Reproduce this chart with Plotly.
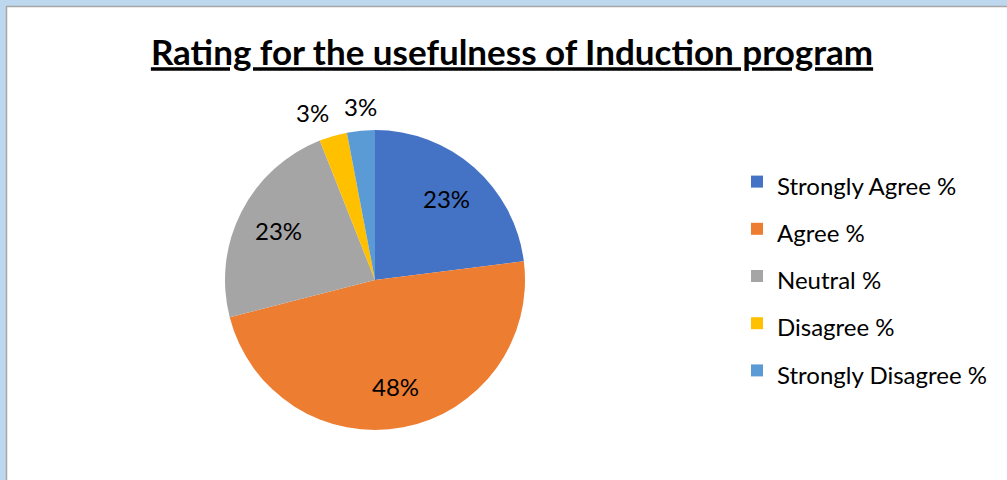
import math
import plotly.graph_objects as go

# rating data
labels = ["Strongly Agree %", "Agree %", "Neutral %", "Disagree %", "Strongly Disagree %"]
values = [23, 48, 23, 3, 3]
colors = ["#4472C4", "#ED7D31", "#A5A5A5", "#FFC000", "#5B9BD5"]
title_text = "Rating for the usefulness of Induction program"

W, H = 1007, 480
cx, cy, r = 375, 280, 150  # pie centre / radius in pixels

# legend rows in the original are widely spaced, so the legend font sets the row height
# and the label itself is drawn smaller
legend_labels = ["<span style='font-size:24px'>%s</span>" % l for l in labels]

fig = go.Figure()
fig.add_trace(go.Pie(
    labels=legend_labels,
    values=values,
    sort=False,
    direction="clockwise",
    rotation=0,
    marker=dict(colors=colors, line=dict(color="white", width=0)),
    textinfo="none",
    domain=dict(x=[(cx - r) / W, (cx + r) / W], y=[1 - (cy + r) / H, 1 - (cy - r) / H]),
    hoverinfo="label+percent",
))

# data labels placed like Excel: inside big slices, just outside small ones
total = sum(values)
cum = 0
for v in values:
    frac = v / total
    ang = math.radians((cum + v / 2) / total * 360)
    cum += v
    if frac >= 0.05:
        rr, xa, ya = r * 0.72, "center", "middle"
    else:
        rr = r * 1.05
        xa = "right" if math.sin(ang) < -0.2 else "center"
        ya = "bottom"
    px = cx + rr * math.sin(ang)
    py = cy - rr * math.cos(ang)
    fig.add_annotation(x=px / W, y=1 - py / H, xref="paper", yref="paper",
                       text="%d%%" % round(frac * 100), showarrow=False,
                       xanchor=xa, yanchor=ya,
                       font=dict(family="Lato", size=24, color="#000000"))

# chart frame: light blue strip top/left with grey edge, white chart area
fig.add_shape(type="rect", xref="paper", yref="paper",
              x0=6.5 / W, x1=1.01, y0=-0.01, y1=1 - 6.5 / H,
              fillcolor="white", line=dict(color="#A6A6A6", width=1.5), layer="below")

fig.update_layout(
    width=W, height=H,
    margin=dict(l=0, r=0, t=0, b=0),
    paper_bgcolor="#BDD7EE",
    plot_bgcolor="white",
    title=dict(text="<b><u>%s</u></b>" % title_text, x=512 / W, xanchor="center",
               y=1 - 53 / H, yanchor="middle",
               font=dict(family="Lato", size=35, color="#000000")),
    legend=dict(x=737 / W, xanchor="left", y=1 - 276 / H, yanchor="middle",
                font=dict(family="Lato", size=34, color="#000000"),
                bgcolor="rgba(0,0,0,0)"),
    showlegend=True,
)

fig.write_html("out.html", config={"displayModeBar": False},
               post_script="document.body.style.margin='0';")
